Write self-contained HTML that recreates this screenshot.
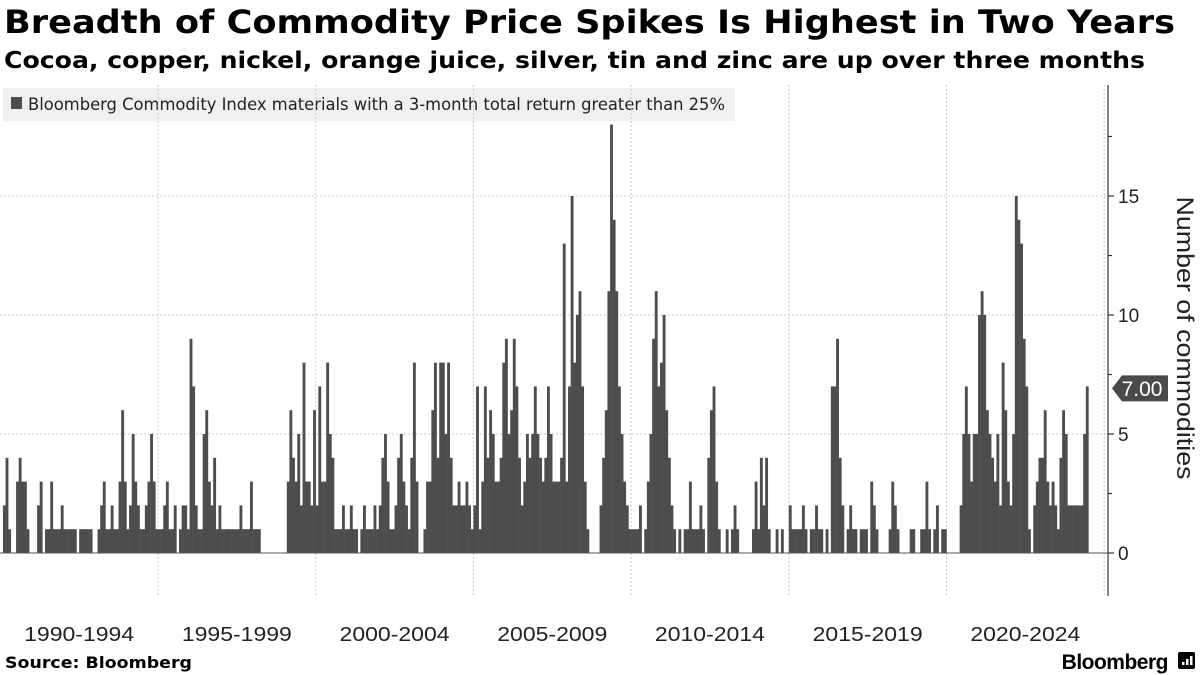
<!DOCTYPE html>
<html><head><meta charset="utf-8">
<style>
body{margin:0;background:#fff;width:1200px;height:675px;overflow:hidden;font-family:"Liberation Sans","DejaVu Sans",sans-serif;}
</style></head><body>
<svg id="c" width="1200" height="675" style="position:absolute;left:0;top:0">
<text x="4" y="33" font-size="32" font-weight="bold" font-family="DejaVu Sans, Liberation Sans, sans-serif" textLength="1171" lengthAdjust="spacingAndGlyphs">Breadth of Commodity Price Spikes Is Highest in Two Years</text>
<text x="4" y="68" font-size="23" font-weight="bold" font-family="DejaVu Sans, Liberation Sans, sans-serif" textLength="1141" lengthAdjust="spacingAndGlyphs">Cocoa, copper, nickel, orange juice, silver, tin and zinc are up over three months</text>
</svg>
<script>
const years=[1990,1991,1992,1993,1994,1995,1996,1997,1998,1999,2000,2001,2002,2003,2004,2005,2006,2007,2008,2009,2010,2011,2012,2013,2014,2015,2016,2017,2018,2019,2020,2021,2022,2023,2024];
const monthlyCounts=[
[0,2,4,1,0,0,3,4,3,3,1,0],
[0,0,2,3,0,1,1,3,1,1,1,2],
[1,1,1,1,1,0,1,1,1,1,1,0],
[0,1,2,3,1,1,2,1,1,3,6,3],
[1,2,5,3,2,1,1,2,3,5,3,1],
[1,1,2,3,1,1,2,0,1,2,2,1],
[9,7,2,1,1,5,6,3,2,4,1,2],
[1,1,1,1,1,1,1,2,1,1,1,3],
[1,1,1,0,0,0,0,0,0,0,0,0],
[0,3,6,4,3,5,2,8,3,3,2,6],
[2,7,3,3,8,5,4,1,1,1,2,1],
[1,2,1,1,0,1,2,1,1,1,2,1],
[2,4,5,3,1,1,2,4,5,3,2,1],
[4,8,3,0,0,1,3,3,6,8,4,8],
[8,5,8,4,2,2,3,2,2,3,2,1],
[2,7,1,3,7,4,6,5,3,3,4,8],
[9,5,6,9,7,4,2,3,5,4,5,7],
[5,4,3,4,7,5,3,3,3,4,13,3],
[7,15,8,10,11,7,3,1,0,0,0,0],
[2,4,6,11,18,14,11,7,5,3,2,1],
[1,1,1,2,0,1,3,5,9,11,7,8],
[10,6,4,2,1,0,1,0,1,1,3,1],
[1,1,2,1,0,4,6,7,3,1,0,0],
[1,0,1,2,1,0,0,0,0,0,1,3],
[1,4,2,4,1,0,0,1,0,1,0,0],
[2,1,1,1,1,2,1,0,1,1,2,1],
[1,0,1,0,7,7,9,4,2,0,1,2],
[1,1,0,1,1,1,0,3,2,1,0,0],
[0,0,1,3,2,1,0,0,0,0,1,1],
[0,0,1,1,3,1,0,1,2,0,1,1],
[0,0,0,0,0,2,5,7,5,3,5,5],
[10,11,10,6,5,4,3,5,2,8,6,3],
[2,5,15,14,13,9,7,1,0,2,3,4],
[4,6,3,2,3,2,1,4,6,5,2,2],
[2,2,2,2,5,7]];
const yTicks=[0,5,10,15];
const periodLabels=["1990-1994","1995-1999","2000-2004","2005-2009","2010-2014","2015-2019","2020-2024"];
const lastValueLabel="7.00";

const NS="http://www.w3.org/2000/svg";
const svg=document.getElementById('c');
const X0=0.3, PX_YEAR=31.54, Y0=553, PX_UNIT=23.8, RIGHT=1108;
const xs=t=>X0+(t-1990)*PX_YEAR;
const ys=v=>Y0-v*PX_UNIT;
function mk(tag,at,parent){const e=document.createElementNS(NS,tag);for(const k in at)e.setAttribute(k,at[k]);(parent||svg).appendChild(e);return e;}

// legend
const lg=mk('g',{});


mk('rect',{x:3,y:88,width:732,height:33,fill:'#f0f0f0'},lg);
mk('rect',{x:11,y:97,width:11,height:12,fill:'#4d4d4d'},lg);
const lt=mk('text',{x:28,y:110,'font-size':17,fill:'#222',textLength:697,lengthAdjust:'spacingAndGlyphs','font-family':'"DejaVu Sans Condensed","Liberation Sans",sans-serif'},lg);
lt.textContent='Bloomberg Commodity Index materials with a 3-month total return greater than 25%';

// gridlines
for(let i=1;i<=7;i++){
  const gx=xs(1990+5*i);
  const g=mk('line',{x1:gx,x2:gx,y1:85,y2:596,stroke:'#c8c8c8','stroke-dasharray':'2,2'});
  
  
}
yTicks.forEach(v=>{
  if(v===0)return;
  const g=mk('line',{x1:0,x2:RIGHT,y1:ys(v),y2:ys(v),stroke:'#c8c8c8','stroke-dasharray':'2,2'});
  
  
});

// bars
const step=PX_YEAR/12;
years.forEach((yr,i)=>{
  monthlyCounts[i].forEach((v,m)=>{
    if(v<=0)return;
    const r=mk('rect',{x:xs(yr+m/12),y:ys(v),width:step+0.25,height:v*PX_UNIT,fill:'#4d4d4d'});
    
    
  });
});

// baseline
const bl=mk('line',{x1:0,x2:RIGHT,y1:Y0,y2:Y0,stroke:'#555','stroke-width':1});



// right axis
const ax=mk('line',{x1:RIGHT,x2:RIGHT,y1:85,y2:596,stroke:'#333','stroke-width':1.2});


for(let v=0;v<=19;v+=2.5){
  const big=(v%5===0);
  mk('line',{x1:RIGHT,x2:RIGHT+(big?6:4),y1:ys(v),y2:ys(v),stroke:'#333','stroke-width':1.2});
}
yTicks.forEach(v=>{
  const t=mk('text',{x:1118,y:ys(v)+7,'font-size':19,fill:'#222'});
  t.textContent=v;
  
  
});
const at=mk('text',{x:0,y:0,'font-size':24,fill:'#222','text-anchor':'middle',textLength:283,lengthAdjust:'spacingAndGlyphs',transform:'translate(1177,338) rotate(90)'});
at.textContent='Number of commodities';



// last value marker
const lastArr=monthlyCounts[monthlyCounts.length-1];
const lv=lastArr[lastArr.length-1];
const ly=ys(lv)+2;
const lm=mk('g',{});


mk('path',{d:`M${RIGHT+4},${ly} L${RIGHT+14},${ly-13} L1168,${ly-13} L1168,${ly+13} L${RIGHT+14},${ly+13} Z`,fill:'#4a4a4a'},lm);
const lvt=mk('text',{x:1142,y:ly+7.5,'font-size':21,fill:'#fff','text-anchor':'middle'},lm);
lvt.textContent=lastValueLabel;

// x labels
periodLabels.forEach((p,i)=>{
  const t=mk('text',{x:xs(1990+5*i+2.5),y:641,'font-size':20,fill:'#222','text-anchor':'middle',textLength:110,lengthAdjust:'spacingAndGlyphs'});
  t.textContent=p;
  
  
});

// footer
const src=mk('text',{x:5,y:668,'font-size':16,'font-weight':'bold',fill:'#000',textLength:187,lengthAdjust:'spacingAndGlyphs','font-family':'"DejaVu Sans","Liberation Sans",sans-serif'});
src.textContent='Source: Bloomberg';


const logo=mk('text',{x:1168,y:669,'font-size':21,'font-weight':'bold',fill:'#000','text-anchor':'end','letter-spacing':'-0.5'});
logo.textContent='Bloomberg';


const li=mk('rect',{x:1178,y:652,width:17,height:17,rx:2,fill:'#000'});


[0,1,2].forEach(k=>mk('rect',{x:1182+k*4,y:664-k*3-2,width:2.5,height:k*3+3,fill:'#fff'}));
</script>
</body></html>
